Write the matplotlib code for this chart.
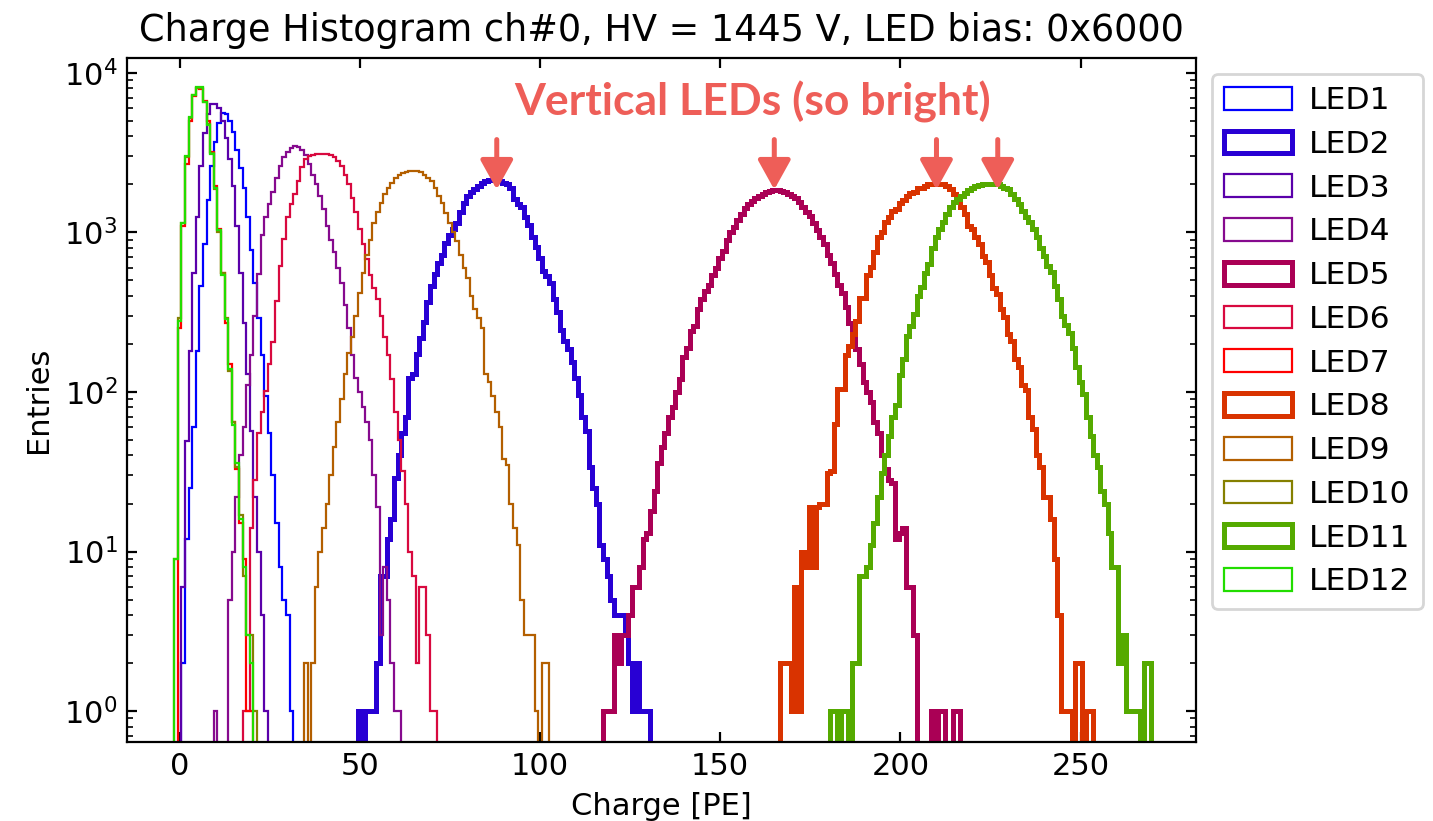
import numpy as np
import matplotlib
matplotlib.use("Agg")
import matplotlib.pyplot as plt
from matplotlib.transforms import blended_transform_factory

# ---- histogram contents: counts per 1 PE bin, bin n spans [n-0.5, n+0.5) ----
led_names = ["LED1", "LED2", "LED3", "LED4", "LED5", "LED6",
             "LED7", "LED8", "LED9", "LED10", "LED11", "LED12"]
first_bin = [1, 50, 1, 10, 118, 18, 0, 167, 35, -1, 181, -1]

led1 = [2, 12, 25, 60, 180, 460, 850, 1600, 2600, 3700,
        4850, 5600, 5550, 5000, 4250, 3300, 2550, 1900, 1250, 780,
        480, 290, 170, 95, 55, 30, 15, 8, 5, 4,
        1]
led2 = [1, 0, 1, 1, 1, 2, 7, 7, 12, 16,
        29, 40, 55, 70, 123, 130, 174, 218, 275, 365,
        460, 550, 645, 725, 860, 960, 1050, 1140, 1350, 1520,
        1700, 1800, 1860, 1950, 2030, 2100, 2140, 2140, 2140, 2100,
        2050, 2000, 1910, 1610, 1500, 1440, 1250, 1110, 935, 815,
        690, 575, 530, 485, 385, 315, 245, 210, 185, 155,
        123, 96, 70, 57, 34, 25, 20, 11, 9, 7,
        5, 4, 4, 4, 3, 2, 1, 2, 1, 1,
        1]
led3 = [6, 49, 180, 560, 1250, 2600, 4200, 5500, 6400, 6400,
        6000, 5000, 3900, 2900, 1950, 1100, 560, 270, 130, 57,
        22, 10, 4, 1]
led4 = [1, 0, 0, 0, 5, 10, 22, 40, 60, 110,
        170, 300, 550, 960, 1250, 1500, 1800, 2200, 2600, 2950,
        3200, 3400, 3500, 3450, 3300, 3050, 2700, 2300, 2000, 1700,
        1400, 1100, 900, 750, 600, 480, 350, 250, 170, 123,
        100, 80, 65, 50, 30, 19, 3, 8, 5, 2,
        1, 1]
led5 = [1, 1, 1, 3, 2, 3, 3, 4, 6, 6,
        8, 12, 13, 18, 24, 36, 45, 55, 70, 80,
        100, 120, 165, 190, 240, 260, 330, 380, 430, 470,
        540, 600, 690, 760, 900, 1000, 1080, 1200, 1300, 1420,
        1500, 1580, 1650, 1700, 1750, 1800, 1830, 1850, 1850, 1820,
        1800, 1750, 1700, 1650, 1560, 1450, 1350, 1270, 1150, 1030,
        940, 850, 720, 640, 550, 470, 420, 340, 270, 230,
        185, 150, 115, 100, 86, 65, 55, 40, 33, 28,
        27, 12, 13, 14, 6, 6, 3, 0, 0, 0,
        0, 1, 0, 1, 1, 0, 0, 1, 1]
led6 = [1, 1, 14, 28, 55, 75, 101, 150, 205, 370,
        620, 910, 1250, 1500, 1730, 2100, 2570, 2900, 3000, 3050,
        3100, 3100, 3100, 3100, 3050, 2950, 2800, 2600, 2300, 2000,
        1650, 1350, 1050, 850, 680, 540, 450, 380, 300, 220,
        170, 120, 75, 50, 32, 20, 10, 7, 2, 6,
        6, 3, 1, 1]
led7 = [250, 1100, 2700, 5000, 7200, 8000, 7900, 6700, 5000, 3200,
        1950, 1050, 560, 270, 150, 65, 33, 15, 9, 1,
        1]
led8 = [2, 2, 2, 1, 6, 1, 10, 8, 19, 8,
        19, 20, 20, 31, 32, 63, 105, 105, 170, 195,
        230, 280, 390, 390, 540, 610, 750, 940, 1000, 1170,
        1250, 1370, 1400, 1540, 1600, 1700, 1760, 1800, 1900, 1910,
        1950, 2000, 2000, 2000, 2000, 2000, 1950, 1860, 1750, 1620,
        1450, 1300, 1100, 1050, 930, 850, 710, 650, 540, 450,
        410, 330, 295, 230, 210, 160, 143, 110, 103, 70,
        59, 40, 34, 22, 22, 16, 9, 4, 1, 1,
        1, 0, 2, 2, 0, 1, 1]
led9 = [2, 0, 2, 6, 10, 14, 20, 30, 45, 65,
        90, 130, 175, 220, 300, 420, 560, 720, 900, 1150,
        1350, 1520, 1730, 1900, 2050, 2200, 2280, 2350, 2400, 2430,
        2430, 2430, 2400, 2300, 2200, 2090, 1900, 1700, 1520, 1320,
        1150, 1000, 880, 720, 600, 515, 400, 330, 290, 250,
        130, 115, 95, 75, 60, 38, 35, 20, 14, 11,
        5, 3, 3, 3, 1, 0, 2, 2]
led10 = [9, 290, 1150, 2950, 5200, 7300, 8050, 8050, 6600, 4800,
         3150, 1880, 1000, 560, 290, 135, 65, 34, 17, 7,
         3, 3, 1]
led11 = [1, 1, 0, 1, 1, 0, 2, 2, 7, 7,
         8, 11, 15, 22, 31, 40, 53, 70, 83, 128,
         160, 223, 260, 310, 400, 457, 560, 630, 800, 930,
         1050, 1170, 1300, 1440, 1550, 1620, 1700, 1770, 1850, 1910,
         1950, 1980, 2000, 2000, 2000, 2000, 2000, 1950, 1900, 1860,
         1750, 1620, 1500, 1370, 1250, 1170, 1050, 930, 800, 710,
         620, 565, 460, 385, 300, 263, 235, 190, 143, 115,
         97, 70, 53, 40, 34, 24, 20, 13, 8, 8,
         2, 3, 1, 1, 1, 1, 0, 2, 2]
led12 = [9, 280, 1150, 3000, 5300, 7300, 8100, 8100, 6600, 4700,
         3100, 1900, 1030, 540, 285, 140, 62, 36, 16, 8,
         3, 2]

all_counts = [led1, led2, led3, led4, led5, led6,
              led7, led8, led9, led10, led11, led12]

# peaks of the vertically mounted LEDs
arrow_x = [88, 165, 210, 227]

# ---- styling ----
plt.rcParams["font.size"] = 11
line_colors = ["#0000ff", "#2800d4", "#5a00aa", "#860a8e", "#aa0055", "#d8093f",
               "#ff0000", "#d93300", "#b35f00", "#858000", "#55aa00", "#22dd00"]
line_widths = [0.8, 1.8, 0.8, 0.8, 1.8, 0.8, 0.8, 1.8, 0.8, 0.8, 1.8, 0.8]
note_color = "#ee5e58"

fig = plt.figure(figsize=(7.165, 4.105), dpi=200)
ax = fig.add_axes([0.0886, 0.0962, 0.7460, 0.8332])

for name, start, counts, col, lw in zip(led_names, first_bin, all_counts,
                                         line_colors, line_widths):
    counts = np.asarray(counts, dtype=float)
    edges = np.arange(start, start + len(counts) + 1) - 0.5
    centers = edges[:-1] + 0.5
    ax.hist(centers, bins=edges, weights=counts, histtype="step",
            color=col, lw=lw, label=name, log=True)

ax.set_yscale("log", nonpositive="clip")
ax.set_xlim(-14.6, 282.0)
ax.set_ylim(0.64, 12400)
ax.tick_params(which="both", direction="in", top=True, right=True)

ax.set_title("Charge Histogram ch#0, HV = 1445 V, LED bias: 0x6000", fontsize=13.2)
ax.set_xlabel("Charge [PE]")
ax.set_ylabel("Entries")

ax.legend(loc="upper left", bbox_to_anchor=(1.0, 1.0), fontsize=11.3,
          handlelength=2.16, handleheight=0.73, handletextpad=0.55,
          labelspacing=0.47)

trans = blended_transform_factory(ax.transData, ax.transAxes)
ax.text(159, 0.9156, "Vertical LEDs (so bright)", transform=trans,
        ha="center", va="baseline", color=note_color,
        fontsize=16.0, fontweight="bold", family="Lato")
for xa in arrow_x:
    ax.annotate("", xy=(xa, 0.8076), xytext=(xa, 0.8807),
                xycoords=trans, textcoords=trans,
                arrowprops=dict(arrowstyle="-|>,head_length=0.45,head_width=0.25",
                                mutation_scale=20, lw=1.8, color=note_color,
                                shrinkA=0, shrinkB=0))

fig.savefig("out.png", dpi=200)
